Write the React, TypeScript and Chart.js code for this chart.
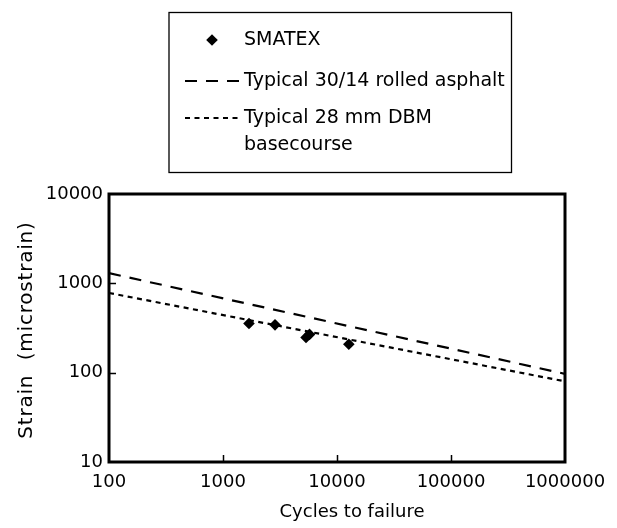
import React, { useEffect, useRef } from "react";
import { Chart, registerables } from "chart.js";

Chart.register(...registerables);

const smatexCycles = [1690, 2860, 5350, 5740, 12700];
const smatexStrain = [355, 343, 248, 268, 208];
const lineCycles = [100, 1000000];
const asphaltStrain = [1300, 97];
const dbmStrain = [780, 80];
const xTicks = [100, 1000, 10000, 100000, 1000000];
const yTicks = [10, 100, 1000, 10000];
const legendLabels: (string | string[])[] = [
  "SMATEX",
  "Typical 30/14 rolled asphalt",
  ["Typical 28 mm DBM", "basecourse"],
];
const xTitle = "Cycles to failure";
const yTitle = "Strain  (microstrain)";

const FONT = "'DejaVu Sans', 'Liberation Sans', Arial, sans-serif";

const framePlugin = {
  id: "frameTicks",
  afterDatasetsDraw(chart: any) {
    const { ctx, chartArea } = chart;
    const { left, right, top, bottom } = chartArea;
    const xs = chart.scales.x;
    const ys = chart.scales.y;
    ctx.save();
    ctx.strokeStyle = "#000";
    ctx.lineWidth = 1.5;
    ctx.beginPath();
    xTicks.slice(1, -1).forEach((v) => {
      const px = Math.round(xs.getPixelForValue(v)) + 0.5;
      ctx.moveTo(px, bottom);
      ctx.lineTo(px, bottom - 7);
    });
    yTicks.slice(1, -1).forEach((v) => {
      const py = Math.round(ys.getPixelForValue(v)) + 0.5;
      ctx.moveTo(left, py);
      ctx.lineTo(left + 7, py);
    });
    ctx.stroke();
    ctx.lineWidth = 3;
    ctx.strokeRect(left, top, right - left, bottom - top);
    ctx.restore();
  },
};

const titlesPlugin = {
  id: "axisTitles",
  afterDraw(chart: any) {
    const { ctx, chartArea } = chart;
    ctx.save();
    ctx.fillStyle = "#000";
    ctx.font = `18px ${FONT}`;
    ctx.textAlign = "center";
    ctx.textBaseline = "middle";
    ctx.fillText(xTitle, chartArea.left + (chartArea.right - chartArea.left) / 2 + 15, 512);
    ctx.translate(27, (chartArea.top + chartArea.bottom) / 2 + 2);
    ctx.rotate(-Math.PI / 2);
    ctx.font = `20px ${FONT}`;
    try {
      (ctx as any).letterSpacing = "0.8px";
    } catch (e) {}
    ctx.fillText(yTitle, 0, 0);
    ctx.restore();
  },
};

const legendPlugin = {
  id: "boxLegend",
  afterDraw(chart: any) {
    const { ctx } = chart;
    const ds = chart.data.datasets;
    ctx.save();
    ctx.strokeStyle = "#000";
    ctx.lineWidth = 1.3;
    ctx.strokeRect(169, 12.5, 342.5, 160);
    ctx.fillStyle = "#000";
    ctx.font = `19px ${FONT}`;
    ctx.textBaseline = "middle";
    ctx.textAlign = "left";
    const textX = 244;
    const rows = [40, 81, 118];
    const r = ds[0].pointRadius;
    ctx.beginPath();
    ctx.moveTo(212, rows[0] - r);
    ctx.lineTo(212 + r, rows[0]);
    ctx.lineTo(212, rows[0] + r);
    ctx.lineTo(212 - r, rows[0]);
    ctx.closePath();
    ctx.fill();
    for (let i = 1; i < 3; i++) {
      ctx.save();
      ctx.lineWidth = ds[i].borderWidth;
      ctx.setLineDash(ds[i].borderDash);
      ctx.beginPath();
      ctx.moveTo(185, rows[i]);
      ctx.lineTo(240, rows[i]);
      ctx.stroke();
      ctx.restore();
    }
    legendLabels.forEach((lab, i) => {
      const lines = Array.isArray(lab) ? lab : [lab];
      lines.forEach((t, j) => ctx.fillText(t, textX, rows[i] + j * 27));
    });
    ctx.restore();
  },
};

export default function App() {
  const ref = useRef<HTMLCanvasElement>(null);
  useEffect(() => {
    if (!ref.current) return;
    const chart = new Chart(ref.current, {
      type: "scatter",
      data: {
        datasets: [
          {
            label: "SMATEX",
            data: smatexCycles.map((x, i) => ({ x, y: smatexStrain[i] })),
            pointStyle: "rectRot",
            pointRadius: 5.8,
            backgroundColor: "#000",
            borderColor: "#000",
            borderWidth: 0,
            showLine: false,
          },
          {
            label: "Typical 30/14 rolled asphalt",
            data: lineCycles.map((x, i) => ({ x, y: asphaltStrain[i] })),
            showLine: true,
            borderColor: "#000",
            borderWidth: 2.2,
            borderDash: [12, 9],
            pointRadius: 0,
          },
          {
            label: "Typical 28 mm DBM basecourse",
            data: lineCycles.map((x, i) => ({ x, y: dbmStrain[i] })),
            showLine: true,
            borderColor: "#000",
            borderWidth: 2.2,
            borderDash: [5, 4.5],
            pointRadius: 0,
          },
        ],
      },
      options: {
        animation: false,
        responsive: false,
        layout: { padding: { top: 194, right: 52, left: 0, bottom: 0 } },
        plugins: { legend: { display: false }, tooltip: { enabled: false } },
        scales: {
          x: {
            type: "logarithmic",
            min: 100,
            max: 1000000,
            afterBuildTicks: (s: any) => {
              s.ticks = xTicks.map((v) => ({ value: v }));
            },
            afterFit: (s: any) => {
              s.height = 66;
            },
            grid: { display: false, drawTicks: false },
            border: { display: false },
            ticks: {
              color: "#000",
              font: { family: FONT, size: 18 },
              padding: 10,
              maxRotation: 0,
              autoSkip: false,
              callback: (v: any) => String(v),
            },
          },
          y: {
            type: "logarithmic",
            min: 10,
            max: 10000,
            afterBuildTicks: (s: any) => {
              s.ticks = yTicks.map((v) => ({ value: v }));
            },
            afterFit: (s: any) => {
              s.width = 109;
            },
            grid: { display: false, drawTicks: false },
            border: { display: false },
            ticks: {
              color: "#000",
              font: { family: FONT, size: 18 },
              padding: 6,
              autoSkip: false,
              callback: (v: any) => String(v),
            },
          },
        },
      },
      plugins: [framePlugin, titlesPlugin, legendPlugin],
    });
    return () => chart.destroy();
  }, []);
  return (
    <div style={{ position: "absolute", left: 0, top: 0, width: 617, height: 528, background: "#fff" }}>
      <canvas ref={ref} width={617} height={528} />
    </div>
  );
}
